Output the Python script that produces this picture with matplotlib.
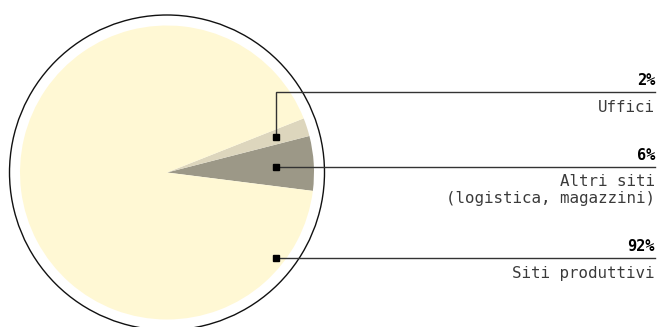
import matplotlib.pyplot as plt
from matplotlib.patches import Circle

# data
labels = ["Altri siti\n(logistica, magazzini)", "Uffici", "Siti produttivi"]
shares = [6, 2, 92]
colors = ["#9c9887", "#ddd6bd", "#fff8d4"]

W, H = 660, 327
CX, CY = 167, H - 172.5
R_PIE, R_RING = 147, 157.5

fig = plt.figure(figsize=(W / 100, H / 100), dpi=100)
ax = fig.add_axes([0, 0, 1, 1])
ax.set_xlim(0, W)
ax.set_ylim(0, H)
ax.set_aspect("equal")
ax.axis("off")

ax.pie(shares, colors=colors, startangle=-7.2, counterclock=True,
       center=(CX, CY), radius=R_PIE, wedgeprops=dict(linewidth=0))
ax.set_xlim(0, W)
ax.set_ylim(0, H)
ax.add_patch(Circle((CX, CY), R_RING, fill=False, ec="#111111", lw=1.0))

# callouts: (marker y, line y, label index) in pixel rows from top
mx, x_end = 276.3, 655
callouts = [
    (137, 91.7, 1),
    (166.5, 166.5, 0),
    (258.3, 258.3, 2),
]
mono = "DejaVu Sans Mono"
for my, ly, i in callouts:
    y_m, y_l = H - my, H - ly
    ax.plot([mx, mx, x_end], [y_m, y_l, y_l], color="#333333", lw=1.0,
            solid_joinstyle="miter")
    ax.plot(mx, y_m, marker="s", ms=5, color="black", mec="black")
    ax.text(x_end, y_l + 7, f"{shares[i]}%", ha="right", va="baseline",
            fontsize=11, fontweight="bold", family=mono, color="black")
    ax.text(x_end, y_l - 8, labels[i], ha="right", va="top",
            fontsize=11.4, family=mono, color="#3a3a3a", linespacing=1.1)

fig.savefig("out.png", dpi=100)
